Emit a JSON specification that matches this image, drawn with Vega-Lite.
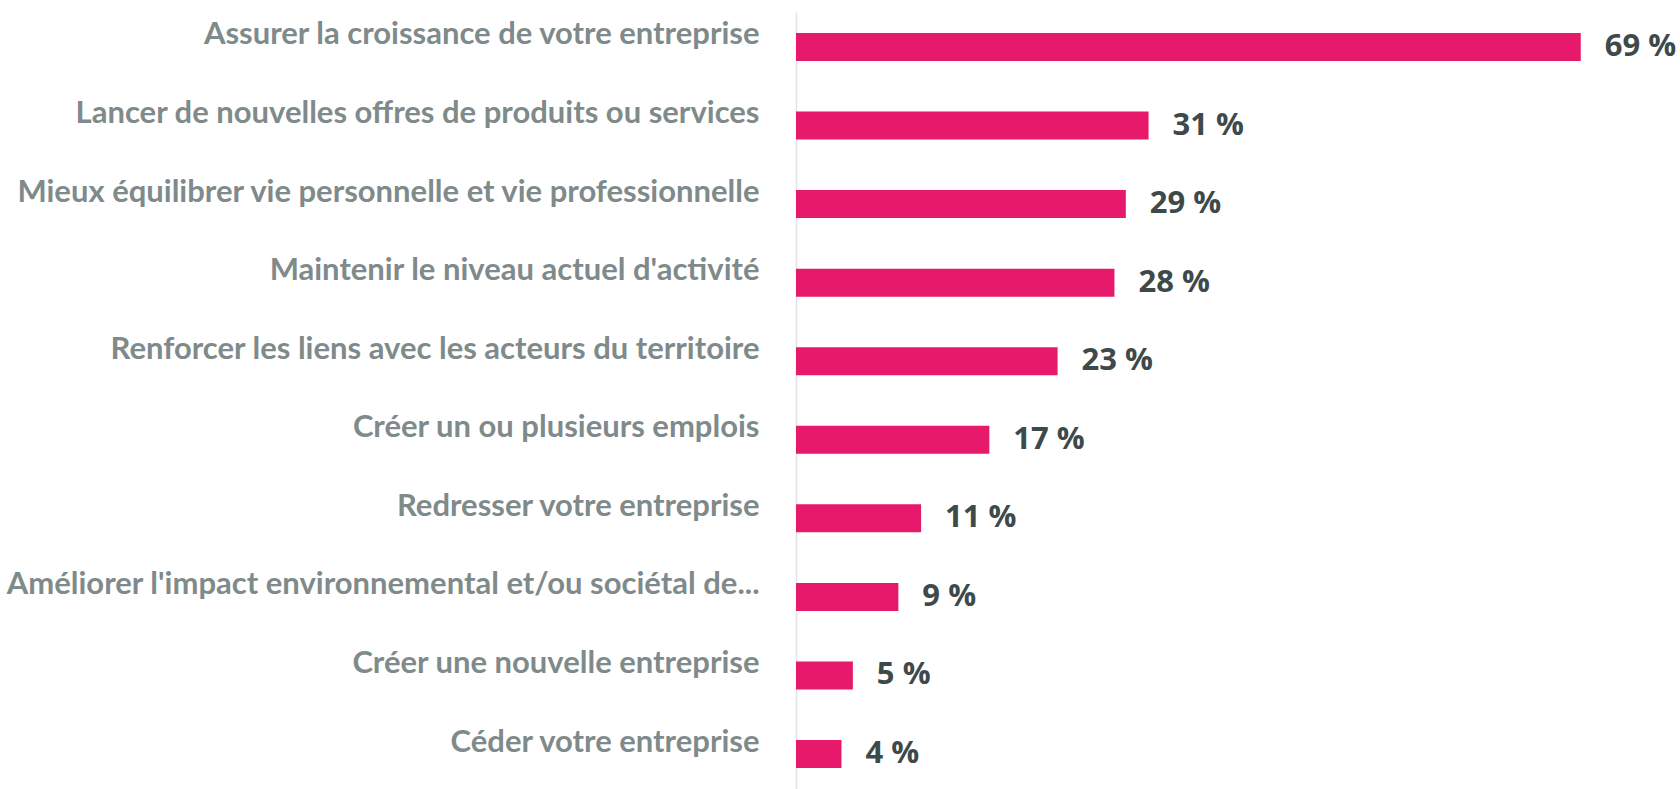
{
  "$schema": "https://vega.github.io/schema/vega-lite/v6.json",
  "width": 853,
  "height": 777,
  "autosize": "none",
  "padding": {"left": 796, "top": 12, "right": 31, "bottom": 0},
  "background": "white",
  "config": {"view": {"stroke": null}},
  "data": {
    "values": [
      {"objectif": "Assurer la croissance de votre entreprise", "pct": 69, "label": "69 %"},
      {"objectif": "Lancer de nouvelles offres de produits ou services", "pct": 31, "label": "31 %"},
      {"objectif": "Mieux équilibrer vie personnelle et vie professionnelle", "pct": 29, "label": "29 %"},
      {"objectif": "Maintenir le niveau actuel d'activité ", "pct": 28, "label": "28 %"},
      {"objectif": "Renforcer les liens avec les acteurs du territoire", "pct": 23, "label": "23 %"},
      {"objectif": "Créer un ou plusieurs emplois", "pct": 17, "label": "17 %"},
      {"objectif": "Redresser votre entreprise", "pct": 11, "label": "11 %"},
      {"objectif": "Améliorer l'impact environnemental et/ou sociétal de...", "pct": 9, "label": "9 %"},
      {"objectif": "Créer une nouvelle entreprise", "pct": 5, "label": "5 %"},
      {"objectif": "Céder votre entreprise", "pct": 4, "label": "4 %"}
    ]
  },
  "encoding": {
    "y": {
      "field": "objectif",
      "type": "nominal",
      "sort": null,
      "scale": {"paddingInner": 0.644, "paddingOuter": 0.267},
      "axis": {
        "title": null,
        "ticks": false,
        "domain": true,
        "domainColor": "#e3e3e3",
        "domainWidth": 1.5,
        "labelPadding": 37,
        "labelLimit": 0,
        "labelFont": "Lato",
        "labelFontWeight": "bold",
        "labelFontSize": 31,
        "labelColor": "#7f8a8b",
        "labelBaseline": "alphabetic",
        "labelOffset": -2.5
      }
    },
    "x": {
      "field": "pct",
      "type": "quantitative",
      "scale": {"domain": [0, 75]},
      "axis": null
    }
  },
  "layer": [
    {"mark": {"type": "bar", "color": "#e6196a"}},
    {
      "mark": {
        "type": "text",
        "align": "left",
        "baseline": "alphabetic",
        "dx": 24,
        "dy": 9,
        "font": "Open Sans",
        "fontWeight": "bold",
        "fontSize": 31,
        "color": "#3e494a"
      },
      "encoding": {"text": {"field": "label"}}
    }
  ]
}
